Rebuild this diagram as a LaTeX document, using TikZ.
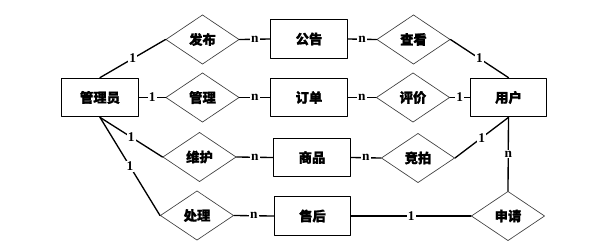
\documentclass[tikz,border=0pt]{standalone}
\usepackage{fontspec}
\setmainfont{Liberation Serif}
\newfontfamily\cjk[FakeBold=1.2]{Noto Sans CJK SC}
\usetikzlibrary{shapes.geometric}

\begin{document}
\begin{tikzpicture}[
  x=0.75pt, y=-0.75pt,
  line cap=round, line join=round,
  ent/.style={draw=black, fill=white, line width=0.8pt, rectangle,
              minimum width=57.5pt, minimum height=29pt, inner sep=0pt,
              font=\cjk\bfseries\fontsize{10}{12}\selectfont},
  rel/.style={draw=black!75, fill=white, line width=0.5pt, diamond, aspect=1.5,
              minimum width=55pt, minimum height=37pt, inner sep=0pt,
              font=\cjk\bfseries\fontsize{10}{12}\selectfont},
  ln/.style={draw=black, line width=1.0pt},
  lb/.style={fill=white, inner sep=0.8pt, font=\bfseries\fontsize{10}{12}\selectfont},
]
\useasboundingbox (0,0) rectangle (604,251);

\node[ent] (admin)  at (100.0, 97.5) {管理员};
\node[ent] (user)   at (508.5, 97.5) {用户};
\node[ent] (notice) at (309.0, 39.0) {公告};
\node[ent] (order)  at (309.0, 97.5) {订单};
\node[ent] (goods)  at (312.0,157.5) {商品};
\node[ent] (after)  at (312.5,216.0) {售后};

\node[rel] (publish) at (202.5, 39.5) {发布};
\node[rel] (manage)  at (202.5, 97.5) {管理};
\node[rel] (maint)   at (199.5,157.0) {维护};
\node[rel] (handle)  at (197.0,215.5) {处理};
\node[rel] (view)    at (413.5, 39.5) {查看};
\node[rel] (rate)    at (413.0, 97.5) {评价};
\node[rel] (bid)     at (418.0,158.0) {竞拍};
\node[rel] (apply)   at (508.0,216.0) {申请};

\draw[ln] (admin.north) -- node[lb] {1} (publish.west);
\draw[ln] (admin.east) -- node[lb] {1} (manage.west);
\draw[ln] (admin.south) -- node[lb] {1} (maint.west);
\draw[ln] (admin.south) -- node[lb] {1} (handle.west);

\draw[ln] (publish.east) -- node[lb] {n} (notice.west);
\draw[ln] (manage.east) -- node[lb] {n} (order.west);
\draw[ln] (maint.east) -- node[lb] {n} (goods.west);
\draw[ln] (handle.east) -- node[lb] {n} (after.west);

\draw[ln] (notice.east) -- node[lb] {n} (view.west);
\draw[ln] (order.east) -- node[lb] {n} (rate.west);
\draw[ln] (goods.east) -- node[lb] {n} (bid.west);
\draw[ln] (after.east) -- node[lb] {1} (apply.west);

\draw[ln] (view.east) -- node[lb] {1} (user.north);
\draw[ln] (rate.east) -- node[lb] {1} (user.west);
\draw[ln] (bid.east) -- node[lb] {1} (user.south);
\draw[ln] (user.south) -- node[lb] {n} (apply.north);
\end{tikzpicture}
\end{document}
